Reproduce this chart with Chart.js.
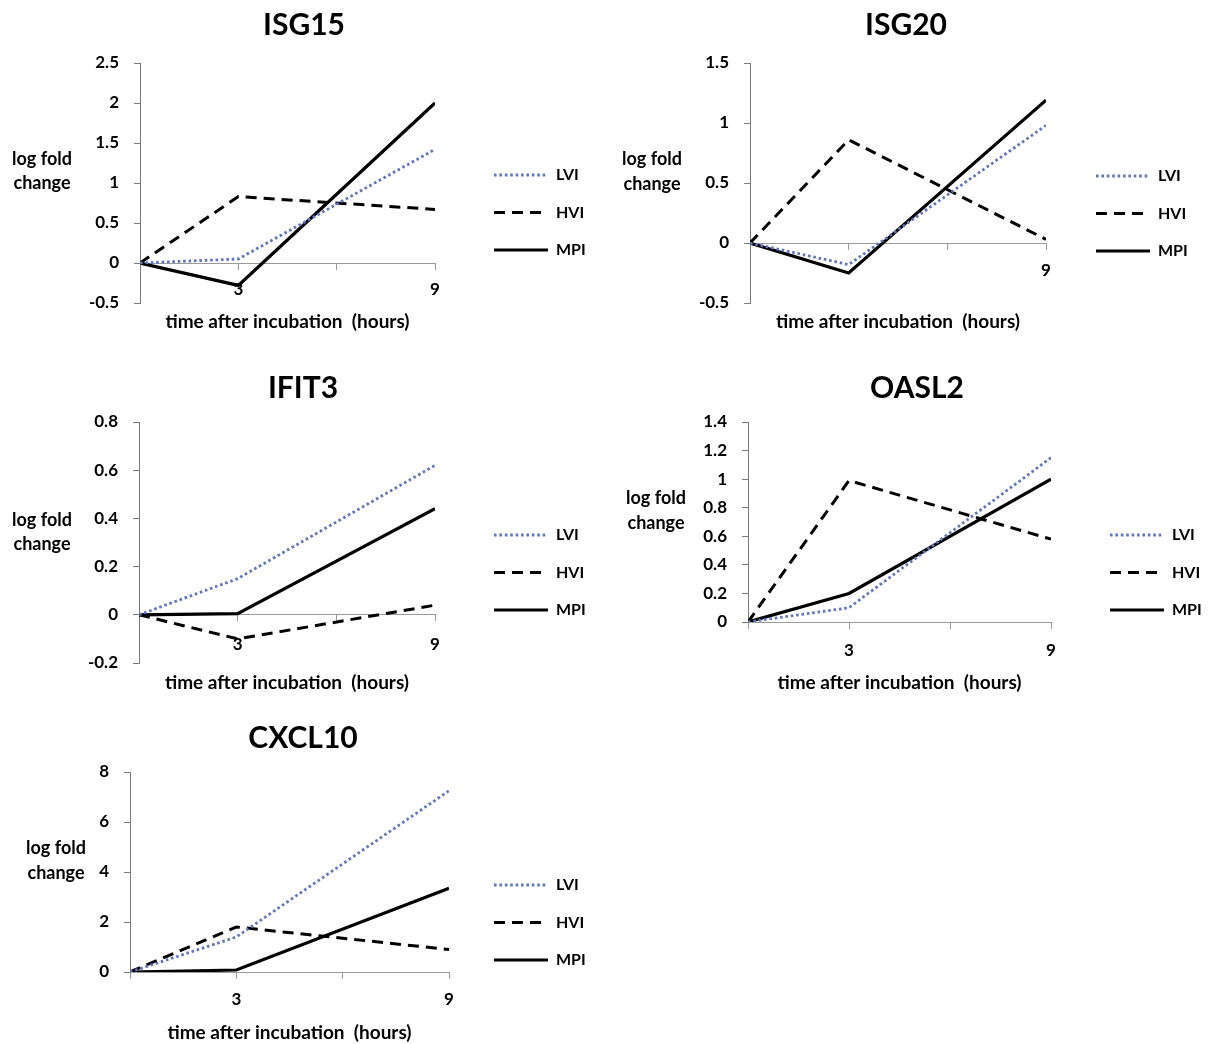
<!DOCTYPE html>
<html><head><meta charset="utf-8">
<script src="https://cdn.jsdelivr.net/npm/chart.js@4.4.1/dist/chart.umd.min.js"></script>
<style>
html,body{margin:0;padding:0;background:#fff;overflow:hidden;width:1208px;height:1044px;}
canvas{position:absolute;display:block;}
</style></head><body>
<canvas id="c0"></canvas><canvas id="c1"></canvas><canvas id="c2"></canvas><canvas id="c3"></canvas><canvas id="c4"></canvas>
<script>
// ---------- data ----------
const hours = [0, 3, 9];
const seriesNames = ['LVI', 'HVI', 'MPI'];
const genes = ['ISG15', 'ISG20', 'IFIT3', 'OASL2', 'CXCL10'];

const isg15LVI = [0, 0.05, 1.42];
const isg15HVI = [0, 0.83, 0.67];
const isg15MPI = [0, -0.28, 2.00];

const isg20LVI = [0, -0.18, 0.98];
const isg20HVI = [0, 0.86, 0.03];
const isg20MPI = [0, -0.25, 1.19];

const ifit3LVI = [0, 0.15, 0.62];
const ifit3HVI = [0, -0.10, 0.04];
const ifit3MPI = [0, 0.005, 0.44];

const oasl2LVI = [0, 0.10, 1.15];
const oasl2HVI = [0, 0.99, 0.58];
const oasl2MPI = [0, 0.20, 1.00];

const cxcl10LVI = [0, 1.40, 7.25];
const cxcl10HVI = [0, 1.80, 0.90];
const cxcl10MPI = [0, 0.08, 3.35];

// y-axis ranges [min, max, step]
const isg15Range = [-0.5, 2.5, 0.5];
const isg20Range = [-0.5, 1.5, 0.5];
const ifit3Range = [-0.2, 0.8, 0.2];
const oasl2Range = [0, 1.4, 0.2];
const cxcl10Range = [0, 8, 2];

// x tick labels that are printed
const isg15XLabels = [3, 9];
const isg20XLabels = [9];
const ifit3XLabels = [3, 9];
const oasl2XLabels = [3, 9];
const cxcl10XLabels = [3, 9];

const xStep = 3;
const xTitle = 'time after incubation  (hours)';
const yTitleLines = ['log fold', 'change'];

const seriesByGene = {
  ISG15: [isg15LVI, isg15HVI, isg15MPI],
  ISG20: [isg20LVI, isg20HVI, isg20MPI],
  IFIT3: [ifit3LVI, ifit3HVI, ifit3MPI],
  OASL2: [oasl2LVI, oasl2HVI, oasl2MPI],
  CXCL10: [cxcl10LVI, cxcl10HVI, cxcl10MPI]
};
const rangeByGene = {ISG15: isg15Range, ISG20: isg20Range, IFIT3: ifit3Range, OASL2: oasl2Range, CXCL10: cxcl10Range};
const xLabelsByGene = {ISG15: isg15XLabels, ISG20: isg20XLabels, IFIT3: ifit3XLabels, OASL2: oasl2XLabels, CXCL10: cxcl10XLabels};

// ---------- styles ----------
const seriesStyles = [
  {borderColor: '#5f76bd', borderWidth: 2.8, borderDash: [2.6, 2.8]},
  {borderColor: '#000000', borderWidth: 3, borderDash: [11, 7]},
  {borderColor: '#000000', borderWidth: 3.2, borderDash: []}
];

// ---------- layout (page pixels) ----------
const layoutPanels = [
  {L:0,   T:0,   W:600, H:345, axisX:140, x9:435,  top:63,  bottom:303, tcx:304, tcy:25,  xlab:290, xtit:322,  legX:494,  legY:175, ytx:42,  yty:[159,183]},
  {L:605, T:0,   W:603, H:345, axisX:750, x9:1046, top:63,  bottom:303, tcx:906, tcy:25,  xlab:271, xtit:322,  legX:1096, legY:176, ytx:652, yty:[159,184]},
  {L:0,   T:360, W:600, H:345, axisX:139, x9:435,  top:422, bottom:663, tcx:303, tcy:388, xlab:645, xtit:683,  legX:494,  legY:535, ytx:42,  yty:[520,544]},
  {L:605, T:360, W:603, H:345, axisX:748, x9:1051, top:422, bottom:622, tcx:917, tcy:388, xlab:651, xtit:683,  legX:1110, legY:535, ytx:656, yty:[498,523]},
  {L:0,   T:712, W:600, H:332, axisX:130, x9:449,  top:772, bottom:972, tcx:303, tcy:738, xlab:1000, xtit:1033, legX:494, legY:885, ytx:56,  yty:[848,873]}
];

const FONT = 'Lato, "Liberation Sans", Arial, sans-serif';
Chart.defaults.font.family = FONT;
Chart.defaults.color = '#000';

const TITLE_SIZE = 30, TICK_SIZE = 17, XT_SIZE = 19, YT_SIZE = 18, LEG_SIZE = 16, LEG_PAD = 21.5, TICK_LEN = 6;

function makeChart(idx) {
  const gene = genes[idx];
  const P = layoutPanels[idx];
  const cv = document.getElementById('c' + idx);
  cv.width = P.W; cv.height = P.H;
  cv.style.left = P.L + 'px'; cv.style.top = P.T + 'px';
  cv.style.width = P.W + 'px'; cv.style.height = P.H + 'px';

  const [ymin, ymax, ystep] = rangeByGene[gene];
  const topRel = P.top - P.T, bottomRel = P.bottom - P.T;
  const zeroRel = topRel + (ymax - 0) / (ymax - ymin) * (bottomRel - topRel);
  const tickLH = TICK_SIZE * 1.2;
  const xPad = (P.xlab - P.T) - zeroRel - TICK_LEN - tickLH / 2;
  const titlePadTop = (P.tcy - P.T) - TITLE_SIZE * 1.2 / 2;
  const titlePadBottom = topRel - titlePadTop - TITLE_SIZE * 1.2;
  const xtLH = XT_SIZE * 1.2;
  const xtPadBottom = P.H - (P.xtit - P.T) - xtLH / 2;
  const xtPadTop = Math.max(0, (P.H - bottomRel) - xtLH - xtPadBottom);

  const st = {padL: 0, padR: 40, axisRel: P.axisX - P.L};

  const datasets = seriesNames.map((name, i) => ({
    label: name,
    data: hours.map((h, k) => ({x: h, y: seriesByGene[gene][i][k]})),
    borderColor: seriesStyles[i].borderColor,
    backgroundColor: seriesStyles[i].borderColor,
    borderWidth: seriesStyles[i].borderWidth,
    borderDash: seriesStyles[i].borderDash,
    borderCapStyle: 'butt',
    pointRadius: 0,
    tension: 0,
    fill: false
  }));

  const legendPlace = {
    id: 'legendPlace' + idx,
    afterLayout(chart) {
      const lg = chart.legend; if (!lg) return;
      const w = lg.width;
      lg.left = (P.legX - P.L) - LEG_PAD; lg.right = lg.left + w;
      lg.top = (P.legY - P.T) - LEG_PAD - LEG_SIZE / 2; lg.bottom = chart.height;
    }
  };
  const yTitlePlugin = {
    id: 'yTitle' + idx,
    afterDraw(chart) {
      const ctx = chart.ctx;
      ctx.save();
      ctx.font = 'bold ' + YT_SIZE + 'px ' + FONT;
      ctx.fillStyle = '#000';
      ctx.textAlign = 'center';
      ctx.textBaseline = 'middle';
      yTitleLines.forEach((t, i) => ctx.fillText(t, P.ytx - P.L, P.yty[i] - P.T));
      ctx.restore();
    }
  };

  const chart = new Chart(cv, {
    type: 'line',
    data: {datasets},
    plugins: [legendPlace, yTitlePlugin],
    options: {
      responsive: false,
      animation: false,
      events: [],
      layout: {padding: {left: st.padL, right: st.padR, top: 0, bottom: 0}},
      plugins: {
        tooltip: {enabled: false},
        title: {display: true, text: gene, color: '#000',
          font: {size: TITLE_SIZE, weight: 'bold', lineHeight: 1.2},
          padding: {top: titlePadTop, bottom: titlePadBottom}},
        legend: {
          display: true, position: 'right', align: 'start',
          labels: {usePointStyle: true, pointStyle: 'line', pointStyleWidth: 54,
            padding: LEG_PAD, color: '#000', font: {size: LEG_SIZE, weight: 'bold'},
            generateLabels: (c) => c.data.datasets.map((ds, i) => ({
              text: ds.label, datasetIndex: i, hidden: false,
              strokeStyle: ds.borderColor, fillStyle: ds.borderColor,
              lineWidth: ds.borderWidth, lineDash: ds.borderDash, lineCap: 'butt',
              pointStyle: 'line', fontColor: '#000'
            }))}
        }
      },
      scales: {
        x: {
          type: 'linear', position: {y: 0}, min: 0, max: 9,
          ticks: {stepSize: xStep, autoSkip: false, maxRotation: 0, padding: xPad, color: '#000',
            font: {size: TICK_SIZE, weight: 'bold', lineHeight: 1.2},
            callback: (v) => xLabelsByGene[gene].includes(v) ? String(v) : ''},
          grid: {drawOnChartArea: false, drawTicks: true, tickLength: TICK_LEN, color: '#9a9a9a', lineWidth: 1},
          border: {display: true, color: '#9a9a9a', width: 1}
        },
        y: {
          type: 'linear', position: 'left', min: ymin, max: ymax,
          ticks: {stepSize: ystep, padding: 15, color: '#000',
            font: {size: TICK_SIZE, weight: 'bold'},
            callback: (v) => String(Math.round(v * 100) / 100)},
          grid: {drawOnChartArea: false, drawTicks: true, tickLength: TICK_LEN, color: '#7a7a7a', lineWidth: 1},
          border: {display: true, color: '#7a7a7a', width: 1},
          afterFit: (s) => { s.width = st.axisRel - st.padL; }
        },
        xt: {
          type: 'linear', axis: 'x', position: 'bottom', display: true, min: 0, max: 1,
          ticks: {display: false},
          grid: {display: false, drawTicks: false},
          border: {display: false},
          title: {display: true, text: xTitle, color: '#000',
            font: {size: XT_SIZE, weight: 'bold', lineHeight: 1.2},
            padding: {top: xtPadTop, bottom: xtPadBottom}}
        }
      }
    }
  });

  // fit right edge of plot and centre of title
  const x9Rel = P.x9 - P.L, tcxRel = P.tcx - P.L;
  for (let it = 0; it < 3; it++) {
    const diff = chart.chartArea.right - x9Rel;
    st.padR = Math.max(0, st.padR + diff);
    st.padL = Math.min(Math.max(0, 2 * tcxRel - P.W + st.padR), st.axisRel - 30);
    chart.options.layout.padding = {left: st.padL, right: st.padR, top: 0, bottom: 0};
    chart.update();
  }
  return chart;
}

genes.forEach((g, i) => makeChart(i));
</script>
</body></html>
